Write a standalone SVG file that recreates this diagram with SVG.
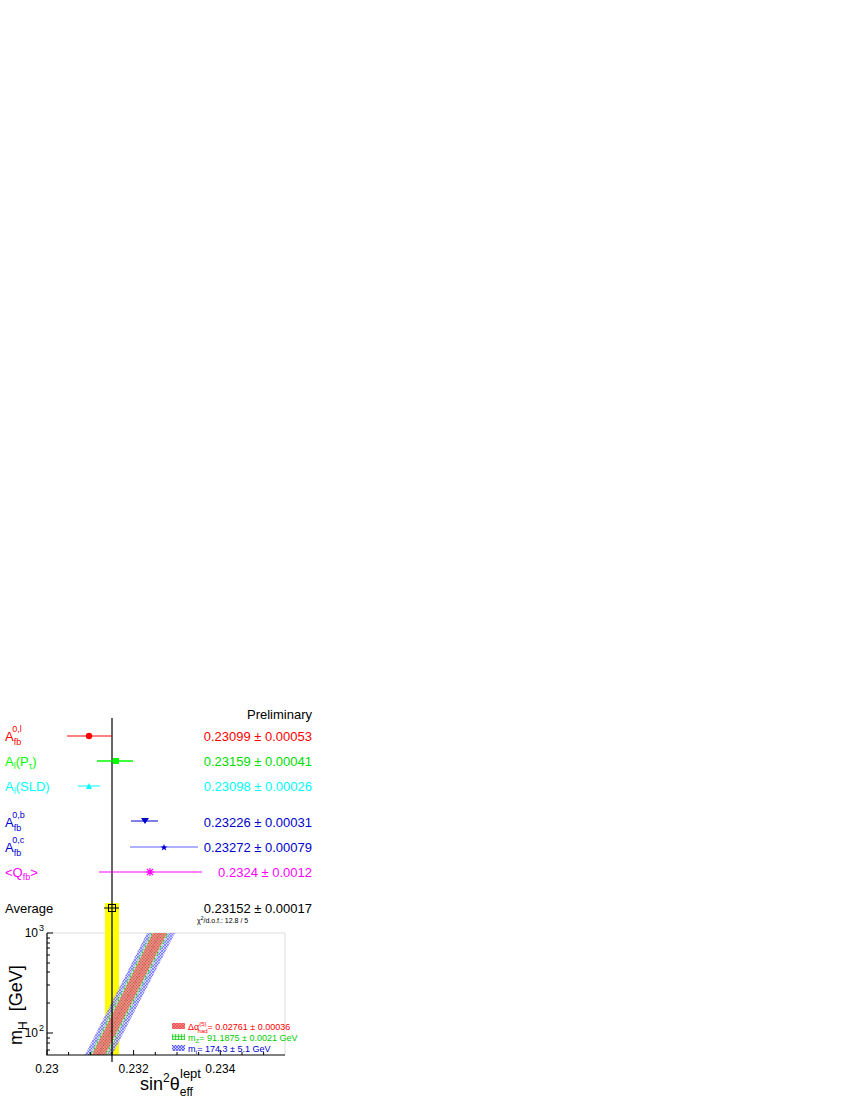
<svg xmlns="http://www.w3.org/2000/svg" width="850" height="1100" viewBox="0 0 850 1100">
<style>
text{font-family:"Liberation Sans",Arial,sans-serif;font-size:13px}
.v{text-anchor:end}
.s{font-size:9px}
</style>
<defs>
<pattern id="pb" width="3" height="3" patternUnits="userSpaceOnUse"><rect width="3" height="3" fill="#c8c8ff"/><path d="M0 0L3 3M3 0L0 3" stroke="#3030ff" stroke-width="0.6"/></pattern>
<pattern id="pg" width="3" height="3" patternUnits="userSpaceOnUse"><rect width="3" height="3" fill="#d0ffd0"/><path d="M1.5 0V3M0 1.5H3" stroke="#00c000" stroke-width="0.6"/></pattern>
<pattern id="pr" width="3" height="3" patternUnits="userSpaceOnUse"><rect width="3" height="3" fill="#ff8080"/><path d="M0 0L3 3M3 0L0 3" stroke="#e04040" stroke-width="0.6"/></pattern>
</defs>
<rect width="850" height="1100" fill="#fff"/>
<text x="312" y="719" class="v">Preliminary</text>
<g id="plot">
<line x1="47" y1="933" x2="285" y2="933" stroke="#ddd"/>
<line x1="285" y1="933" x2="285" y2="1055" stroke="#ddd"/>
<rect x="105" y="903" width="14" height="152" fill="#ffff00"/>
<polygon points="85,1055 112,1055 175,933 147,933" fill="url(#pb)" opacity="0.8"/>
<polygon points="90,1055 107,1055 169,933 151,933" fill="url(#pg)" opacity="0.8"/>
<polygon points="92,1055 105,1055 167,933 153,933" fill="url(#pr)" opacity="0.8"/>
<line x1="98.5" y1="1055" x2="160" y2="933" stroke="#c04040" stroke-width="0.5" stroke-dasharray="3,2"/>
<path d="M47 933V1055H285" fill="none" stroke="#000" stroke-width="1.2"/>
<g stroke="#000">
<path d="M47 1055v-5M68.6 1055v-3M90.3 1055v-3M112 1055v-3M133.6 1055v-5M155.3 1055v-3M177 1055v-3M198.6 1055v-3M220.3 1055v-5M242 1055v-3M263.6 1055v-3"/>
<path d="M47 1033h6M47 933h6M47 1050h3M47 1043h3M47 1038h3M47 1003h3M47 985h3M47 972h3M47 963h3M47 955h3M47 948h3M47 943h3M47 938h3"/>
</g>
<text x="47" y="1073" text-anchor="middle" style="font-size:12px">0.23</text>
<text x="133.6" y="1073" text-anchor="middle" style="font-size:12px">0.232</text>
<text x="220.3" y="1073" text-anchor="middle" style="font-size:12px">0.234</text>
<text x="38" y="1037" class="v" style="font-size:12px">10</text><text x="39" y="1031" class="s">2</text>
<text x="38" y="937" class="v" style="font-size:12px">10</text><text x="39" y="931" class="s">3</text>
<text transform="translate(22,1045) rotate(-90)" style="font-size:18px">m<tspan dy="5" style="font-size:12px">H</tspan><tspan dy="-5" xml:space="preserve">  [GeV]</tspan></text>
<text x="140" y="1090" style="font-size:18px">sin<tspan dy="-8" style="font-size:12px">2</tspan><tspan dy="8">θ</tspan><tspan dy="6" style="font-size:12px">eff</tspan></text>
<text x="180" y="1078" style="font-size:13px">lept</text>
</g>
<g id="legend">
<rect x="172" y="1023" width="13" height="6" fill="url(#pr)"/>
<rect x="172" y="1034" width="13" height="6" fill="url(#pg)"/>
<rect x="172" y="1045" width="13" height="6" fill="url(#pb)"/>
<text x="188" y="1030" fill="#ff0000" style="font-size:9px">Δα<tspan dy="-4" style="font-size:6px">(5)</tspan><tspan dx="-9" dy="7" style="font-size:6px">had</tspan><tspan dy="-3">= 0.02761 ± 0.00036</tspan></text>
<text x="188" y="1041" fill="#00cc00" style="font-size:9px">m<tspan dy="2" style="font-size:6px">Z</tspan><tspan dy="-2">= 91.1875 ± 0.0021 GeV</tspan></text>
<text x="188" y="1052" fill="#0000cc" style="font-size:9px">m<tspan dy="2" style="font-size:6px">t</tspan><tspan dy="-2">= 174.3 ± 5.1 GeV</tspan></text>
</g>
<g id="connectors">
<line x1="112" y1="718" x2="112" y2="1062" stroke="#000" stroke-width="1.2"/>
<line x1="67" y1="736" x2="112" y2="736" stroke="#ff0000"/>
<line x1="97" y1="761" x2="133" y2="761" stroke="#00ff00" stroke-width="1.5"/>
<line x1="78" y1="786" x2="100" y2="786" stroke="#00ffff"/>
<line x1="131" y1="821" x2="158" y2="821" stroke="#0000cc"/>
<line x1="130" y1="847" x2="198" y2="847" stroke="#6060ff"/>
<line x1="99" y1="872" x2="202" y2="872" stroke="#ff00ff"/>
<line x1="104" y1="908" x2="119" y2="908" stroke="#000"/>
</g>
<g id="r1"><text x="5" y="741" fill="#ff0000">A<tspan dy="4" class="s">fb</tspan><tspan dx="-9" dy="-13" class="s">0,l</tspan></text><circle cx="89" cy="736" r="3.2" fill="#ff0000"/><text x="312" y="741" class="v" fill="#ff0000">0.23099 ± 0.00053</text></g>
<g id="r2"><text x="5" y="766" fill="#00ff00">A<tspan dy="3" class="s">l</tspan><tspan dy="-3">(P</tspan><tspan dy="3" class="s">τ</tspan><tspan dy="-3">)</tspan></text><rect x="113" y="758" width="6" height="6" fill="#00ff00"/><text x="312" y="766" class="v" fill="#00dd00">0.23159 ± 0.00041</text></g>
<g id="r3"><text x="5" y="791" fill="#00ffff">A<tspan dy="3" class="s">l</tspan><tspan dy="-3">(SLD)</tspan></text><polygon points="89,783 92,789 86,789" fill="#00ffff"/><text x="312" y="791" class="v" fill="#00ffff">0.23098 ± 0.00026</text></g>
<g id="r4"><text x="5" y="827" fill="#0000cc">A<tspan dy="4" class="s">fb</tspan><tspan dx="-9" dy="-13" class="s">0,b</tspan></text><polygon points="141,818 149,818 145,824" fill="#0000cc"/><text x="312" y="827" class="v" fill="#0000cc">0.23226 ± 0.00031</text></g>
<g id="r5"><text x="5" y="852" fill="#0000cc">A<tspan dy="4" class="s">fb</tspan><tspan dx="-9" dy="-13" class="s">0,c</tspan></text><polygon points="164,844 165,846.5 167.5,846.5 165.5,848 166.3,850.5 164,849 161.7,850.5 162.5,848 160.5,846.5 163,846.5" fill="#0000cc"/><text x="312" y="852" class="v" fill="#0000cc">0.23272 ± 0.00079</text></g>
<g id="r6"><text x="5" y="877" fill="#ff00ff">&lt;Q<tspan dy="3" class="s">fb</tspan><tspan dy="-3">&gt;</tspan></text><path d="M146 872h8M150 868v8M147 869l6 6M153 869l-6 6" stroke="#ff00ff" stroke-width="1.2"/><text x="312" y="877" class="v" fill="#ff00ff">0.2324 ± 0.0012</text></g>
<g id="avg"><text x="5" y="913">Average</text><rect x="108.5" y="904.5" width="7" height="7" fill="none" stroke="#000"/><text x="312" y="913" class="v">0.23152 ± 0.00017</text><text x="197" y="923" style="font-size:7px">χ<tspan dy="-3" style="font-size:5px">2</tspan><tspan dy="3">/d.o.f.: 12.8 / 5</tspan></text></g>
</svg>
